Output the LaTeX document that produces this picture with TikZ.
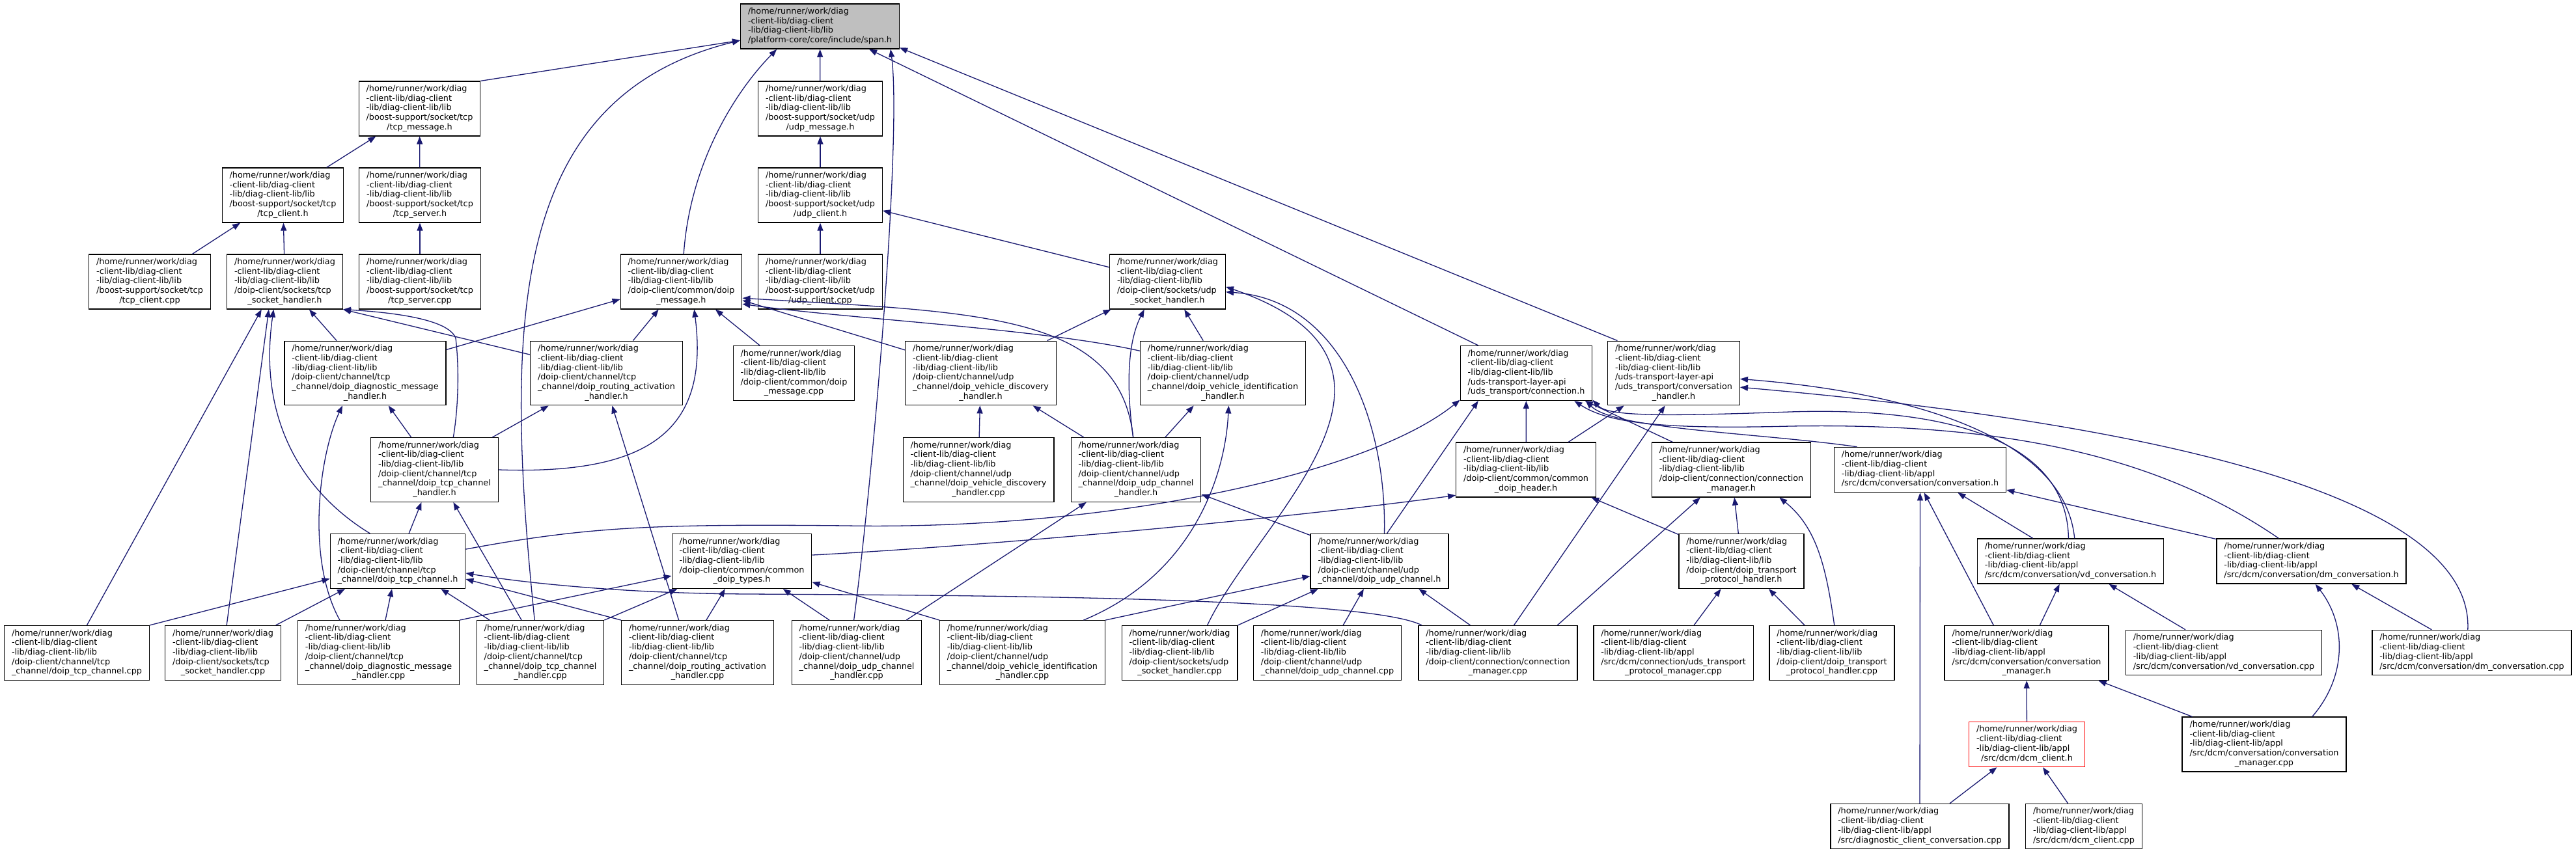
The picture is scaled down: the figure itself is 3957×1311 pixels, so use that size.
\documentclass[tikz,border=0pt]{standalone}
\usepackage{fontspec}
\setmainfont{DejaVu Sans}
\usepackage{tikz}
\usetikzlibrary{arrows.meta}

\definecolor{edgeblue}{HTML}{191970}
\definecolor{curgray}{HTML}{BFBFBF}

\newcommand{\fpath}[2]{\begin{tabular}{@{}l@{}}#1\\\multicolumn{1}{@{}c@{}}{#2}\end{tabular}}
\newcommand{\libp}{/home/runner/work/diag\\-client-lib/diag-client\\-lib/diag-client-lib/lib}
\newcommand{\applp}{/home/runner/work/diag\\-client-lib/diag-client\\-lib/diag-client-lib/appl}

\begin{document}
\begin{tikzpicture}[x=1pt, y=-1pt,
        hfile/.style={draw=black, fill=white, line width=1.3pt, inner xsep=11.4pt, inner ysep=5.2pt, font=\fontsize{12.8}{14.7}\selectfont},
        hcur/.style={hfile, fill=curgray},
        hred/.style={hfile, draw=red},
        incl/.style={->, draw=edgeblue, line width=1.3pt},
        >={Triangle[length=12pt,width=9pt]}
    ]
    \useasboundingbox (0,0) rectangle (3957,1311);

    \node[hcur] (span) at (1259.5,40.5) {\fpath{\libp}{/platform-core/core/include/span.h}};

    \node[hfile] (tcpmsg) at (644.5,167) {\fpath{\libp\\/boost-support/socket/tcp}{/tcp\_message.h}};
    \node[hfile] (udpmsg) at (1260,167) {\fpath{\libp\\/boost-support/socket/udp}{/udp\_message.h}};

    \node[hfile] (tcpcli) at (434.5,300) {\fpath{\libp\\/boost-support/socket/tcp}{/tcp\_client.h}};
    \node[hfile] (tcpsrv) at (645,300) {\fpath{\libp\\/boost-support/socket/tcp}{/tcp\_server.h}};
    \node[hfile] (udpcli) at (1260,300) {\fpath{\libp\\/boost-support/socket/udp}{/udp\_client.h}};

    \node[hfile] (tcpclicpp) at (230,433) {\fpath{\libp\\/boost-support/socket/tcp}{/tcp\_client.cpp}};
    \node[hfile] (tcpsock) at (437.5,433) {\fpath{\libp\\/doip-client/sockets/tcp}{\_socket\_handler.h}};
    \node[hfile] (tcpsrvcpp) at (645,433) {\fpath{\libp\\/boost-support/socket/tcp}{/tcp\_server.cpp}};
    \node[hfile] (doipmsg) at (1046.5,433) {\fpath{\libp\\/doip-client/common/doip}{\_message.h}};
    \node[hfile] (udpclicpp) at (1260,433) {\fpath{\libp\\/boost-support/socket/udp}{/udp\_client.cpp}};
    \node[hfile] (udpsock) at (1793.5,433) {\fpath{\libp\\/doip-client/sockets/udp}{\_socket\_handler.h}};

    \node[hfile] (diagmsg) at (561,573.5) {\fpath{\libp\\/doip-client/channel/tcp\\\_channel/doip\_diagnostic\_message}{\_handler.h}};
    \node[hfile] (routact) at (931.5,573.5) {\fpath{\libp\\/doip-client/channel/tcp\\\_channel/doip\_routing\_activation}{\_handler.h}};
    \node[hfile] (doipmsgcpp) at (1219.5,573.5) {\fpath{\libp\\/doip-client/common/doip}{\_message.cpp}};
    \node[hfile] (vehdisc) at (1506.5,573.5) {\fpath{\libp\\/doip-client/channel/udp\\\_channel/doip\_vehicle\_discovery}{\_handler.h}};
    \node[hfile] (vehident) at (1878.5,573.5) {\fpath{\libp\\/doip-client/channel/udp\\\_channel/doip\_vehicle\_identification}{\_handler.h}};
    \node[hfile] (conn) at (2344.5,573.5) {\fpath{\libp\\/uds-transport-layer-api}{/uds\_transport/connection.h}};
    \node[hfile] (convhdl) at (2571,573.5) {\fpath{\libp\\/uds-transport-layer-api\\/uds\_transport/conversation}{\_handler.h}};

    \node[hfile] (tcpchhdl) at (667.5,722) {\fpath{\libp\\/doip-client/channel/tcp\\\_channel/doip\_tcp\_channel}{\_handler.h}};
    \node[hfile] (vehdisccpp) at (1503,722) {\fpath{\libp\\/doip-client/channel/udp\\\_channel/doip\_vehicle\_discovery}{\_handler.cpp}};
    \node[hfile] (udpchhdl) at (1745,722) {\fpath{\libp\\/doip-client/channel/udp\\\_channel/doip\_udp\_channel}{\_handler.h}};
    \node[hfile] (doiphdr) at (2344,722) {\fpath{\libp\\/doip-client/common/common}{\_doip\_header.h}};
    \node[hfile] (connmgr) at (2659.5,722) {\fpath{\libp\\/doip-client/connection/connection}{\_manager.h}};
    \node[hfile] (conv) at (2949.5,722) {\fpath{\applp}{/src/dcm/conversation/conversation.h}};

    \node[hfile] (tcpch) at (611,862.5) {\fpath{\libp\\/doip-client/channel/tcp}{\_channel/doip\_tcp\_channel.h}};
    \node[hfile] (doiptypes) at (1139.5,862.5) {\fpath{\libp\\/doip-client/common/common}{\_doip\_types.h}};
    \node[hfile] (udpch) at (2119,862.5) {\fpath{\libp\\/doip-client/channel/udp}{\_channel/doip\_udp\_channel.h}};
    \node[hfile] (tphdl) at (2675,862.5) {\fpath{\libp\\/doip-client/doip\_transport}{\_protocol\_handler.h}};
    \node[hfile] (vdconv) at (3180.5,862.5) {\fpath{\applp}{/src/dcm/conversation/vd\_conversation.h}};
    \node[hfile] (dmconv) at (3550.5,862.5) {\fpath{\applp}{/src/dcm/conversation/dm\_conversation.h}};

    \node[hfile] (tcpchcpp) at (118,1003.5) {\fpath{\libp\\/doip-client/channel/tcp}{\_channel/doip\_tcp\_channel.cpp}};
    \node[hfile] (tcpsockcpp) at (342.5,1003.5) {\fpath{\libp\\/doip-client/sockets/tcp}{\_socket\_handler.cpp}};
    \node[hfile] (diagmsgcpp) at (581.5,1003) {\fpath{\libp\\/doip-client/channel/tcp\\\_channel/doip\_diagnostic\_message}{\_handler.cpp}};
    \node[hfile] (tcpchhdlcpp) at (830,1003) {\fpath{\libp\\/doip-client/channel/tcp\\\_channel/doip\_tcp\_channel}{\_handler.cpp}};
    \node[hfile] (routactcpp) at (1071.5,1003) {\fpath{\libp\\/doip-client/channel/tcp\\\_channel/doip\_routing\_activation}{\_handler.cpp}};
    \node[hfile] (udpchhdlcpp) at (1316,1003) {\fpath{\libp\\/doip-client/channel/udp\\\_channel/doip\_udp\_channel}{\_handler.cpp}};
    \node[hfile] (vehidentcpp) at (1570.5,1003) {\fpath{\libp\\/doip-client/channel/udp\\\_channel/doip\_vehicle\_identification}{\_handler.cpp}};
    \node[hfile] (udpsockcpp) at (1812,1003.5) {\fpath{\libp\\/doip-client/sockets/udp}{\_socket\_handler.cpp}};
    \node[hfile] (udpchcpp) at (2039,1003.5) {\fpath{\libp\\/doip-client/channel/udp}{\_channel/doip\_udp\_channel.cpp}};
    \node[hfile] (connmgrcpp) at (2301,1003.5) {\fpath{\libp\\/doip-client/connection/connection}{\_manager.cpp}};
    \node[hfile] (tpmgrcpp) at (2570.5,1003.5) {\fpath{\applp\\/src/dcm/connection/uds\_transport}{\_protocol\_manager.cpp}};
    \node[hfile] (tphdlcpp) at (2814,1003.5) {\fpath{\libp\\/doip-client/doip\_transport}{\_protocol\_handler.cpp}};
    \node[hfile] (convmgr) at (3113,1003.5) {\fpath{\applp\\/src/dcm/conversation/conversation}{\_manager.h}};
    \node[hfile] (vdconvcpp) at (3416,1003) {\fpath{\applp}{/src/dcm/conversation/vd\_conversation.cpp}};
    \node[hfile] (dmconvcpp) at (3797,1003) {\fpath{\applp}{/src/dcm/conversation/dm\_conversation.cpp}};

    \node[hred] (dcmcli) at (3113.5,1144) {\fpath{\applp}{/src/dcm/dcm\_client.h}};
    \node[hfile] (convmgrcpp) at (3478,1144) {\fpath{\applp\\/src/dcm/conversation/conversation}{\_manager.cpp}};

    \node[hfile] (diagconvcpp) at (2949,1270) {\fpath{\applp}{/src/diagnostic\_client\_conversation.cpp}};
    \node[hfile] (dcmclicpp) at (3201,1270) {\fpath{\applp}{/src/dcm/dcm\_client.cpp}};

    % span.h
    \draw[incl] (tcpmsg.north east) -- (span.190);
    \draw[incl] (udpmsg) -- (span);
    \draw[incl] (doipmsg.85) .. controls (1060,250) and (1130,140) .. (span.-152);
    \draw[incl] (tcpchhdlcpp.100) .. controls (775,500) and (780,150) .. (span.190);
    \draw[incl] (udpchhdlcpp.95) .. controls (1345,700) and (1385,200) .. (span.-18);
    \draw[incl] (conn.150) -- (span.-25);
    \draw[incl] (convhdl.150) -- (span.-15);

    % boost-support sockets
    \draw[incl] (tcpcli) -- (tcpmsg);
    \draw[incl] (tcpsrv) -- (tcpmsg);
    \draw[incl] (udpcli) -- (udpmsg);
    \draw[incl] (tcpclicpp) -- (tcpcli);
    \draw[incl] (tcpsock) -- (tcpcli);
    \draw[incl] (tcpsrvcpp) -- (tcpsrv);
    \draw[incl] (udpclicpp) -- (udpcli);
    \draw[incl] (udpsock) -- (udpcli);

    % tcp socket handler
    \draw[incl] (diagmsg) -- (tcpsock);
    \draw[incl] (routact) -- (tcpsock.south east);
    \draw[incl] (tcpchhdl.60) .. controls (705,620) and (705,560) .. (700,520) .. controls (690,490) and (600,480) .. (tcpsock.south east);
    \draw[incl] (tcpch.135) .. controls (470,760) and (395,650) .. (tcpsock.-112);
    \draw[incl] (tcpsockcpp) -- (tcpsock.-120);
    \draw[incl] (tcpchcpp.70) -- (tcpsock.-130);

    % doip message
    \draw[incl] (diagmsg) -- (doipmsg);
    \draw[incl] (routact) -- (doipmsg);
    \draw[incl] (tcpchhdl.east) .. controls (1000,730) and (1090,660) .. (doipmsg.-65);
    \draw[incl] (doipmsgcpp) -- (doipmsg);
    \draw[incl] (vehdisc) -- (doipmsg);
    \draw[incl] (vehident.165) .. controls (1600,505) and (1300,490) .. (doipmsg.-20);
    \draw[incl] (udpchhdl.95) .. controls (1720,480) and (1500,480) .. (doipmsg.-15);

    % udp socket handler
    \draw[incl] (vehdisc) -- (udpsock);
    \draw[incl] (udpchhdl.95) .. controls (1728,580) and (1735,520) .. (udpsock.-130);
    \draw[incl] (vehident) -- (udpsock);
    \draw[incl] (udpch.80) .. controls (2130,650) and (2060,460) .. (udpsock.-10);
    \draw[incl] (udpsockcpp.45) .. controls (1930,800) and (2230,560) .. (udpsock.-5);

    % channel handlers
    \draw[incl] (tcpchhdl) -- (diagmsg);
    \draw[incl] (diagmsgcpp.140) .. controls (470,860) and (490,700) .. (diagmsg.-125);
    \draw[incl] (tcpchhdl) -- (routact);
    \draw[incl] (routactcpp.120) -- (routact.-80);
    \draw[incl] (vehdisccpp) -- (vehdisc);
    \draw[incl] (udpchhdl) -- (vehdisc);
    \draw[incl] (udpchhdl) -- (vehident);
    \draw[incl] (vehidentcpp.28) .. controls (1840,880) and (1883,720) .. (vehident.-80);
    \draw[incl] (tcpch) -- (tcpchhdl);
    \draw[incl] (tcpchhdlcpp) -- (tcpchhdl);
    \draw[incl] (udpch) -- (udpchhdl);
    \draw[incl] (udpchhdlcpp) -- (udpchhdl);

    % uds transport
    \draw[incl] (tcpch.10) .. controls (900,810) and (1000,805) .. (1300,808) .. controls (1700,815) and (2100,730) .. (conn.-158);
    \draw[incl] (udpch.75) -- (conn.-150);
    \draw[incl] (doiphdr) -- (conn);
    \draw[incl] (connmgr) -- (conn);
    \draw[incl] (conv.160) .. controls (2700,665) and (2480,660) .. (conn.-25);
    \draw[incl] (vdconv.95) .. controls (3175,680) and (3000,625) .. (2750,633) .. controls (2550,640) and (2470,640) .. (conn.-22);
    \draw[incl] (dmconv.145) .. controls (3300,690) and (3050,650) .. (2750,655) .. controls (2550,660) and (2470,650) .. (conn.-30);
    \draw[incl] (doiphdr) -- (convhdl);
    \draw[incl] (connmgrcpp.60) -- (convhdl.-105);
    \draw[incl] (vdconv.80) .. controls (3170,660) and (2900,600) .. (convhdl.-5);
    \draw[incl] (dmconvcpp.100) .. controls (3800,760) and (3300,650) .. (convhdl.-12);

    % doip connection
    \draw[incl] (doiptypes.5) .. controls (1500,840) and (1950,800) .. (doiphdr.-160);
    \draw[incl] (tphdl) -- (doiphdr);
    \draw[incl] (tphdl) -- (connmgr);
    \draw[incl] (connmgrcpp.25) -- (connmgr);
    \draw[incl] (tphdlcpp.85) .. controls (2805,870) and (2790,810) .. (connmgr.-30);

    % tcp channel
    \draw[incl] (tcpchcpp.north east) -- (tcpch);
    \draw[incl] (tcpsockcpp) -- (tcpch);
    \draw[incl] (diagmsgcpp) -- (tcpch);
    \draw[incl] (tcpchhdlcpp) -- (tcpch);
    \draw[incl] (routactcpp.north west) -- (tcpch);
    \draw[incl] (connmgrcpp.160) .. controls (2100,918) and (1500,915) .. (1150,913) .. controls (950,912) and (800,895) .. (tcpch.-10);

    % doip types
    \draw[incl] (diagmsgcpp.north east) -- (doiptypes);
    \draw[incl] (tcpchhdlcpp.north east) -- (doiptypes);
    \draw[incl] (routactcpp.75) -- (doiptypes);
    \draw[incl] (udpchhdlcpp.130) -- (doiptypes);
    \draw[incl] (vehidentcpp.north west) -- (doiptypes);

    % udp channel
    \draw[incl] (vehidentcpp.north east) -- (udpch);
    \draw[incl] (udpsockcpp.north east) -- (udpch);
    \draw[incl] (udpchcpp) -- (udpch);
    \draw[incl] (connmgrcpp.135) -- (udpch);

    \draw[incl] (tpmgrcpp) -- (tphdl);
    \draw[incl] (tphdlcpp) -- (tphdl);

    % appl
    \draw[incl] (diagconvcpp) -- (conv);
    \draw[incl] (convmgr.140) -- (conv.-80);
    \draw[incl] (vdconv) -- (conv);
    \draw[incl] (dmconv) -- (conv);
    \draw[incl] (convmgr) -- (vdconv);
    \draw[incl] (vdconvcpp) -- (vdconv);
    \draw[incl] (dmconvcpp) -- (dmconv);
    \draw[incl] (convmgrcpp.30) .. controls (3605,1040) and (3605,960) .. (dmconv.-80);
    \draw[incl] (dcmcli) -- (convmgr);
    \draw[incl] (convmgrcpp) -- (convmgr);
    \draw[incl] (diagconvcpp) -- (dcmcli);
    \draw[incl] (dcmclicpp) -- (dcmcli);

\end{tikzpicture}
\end{document}
